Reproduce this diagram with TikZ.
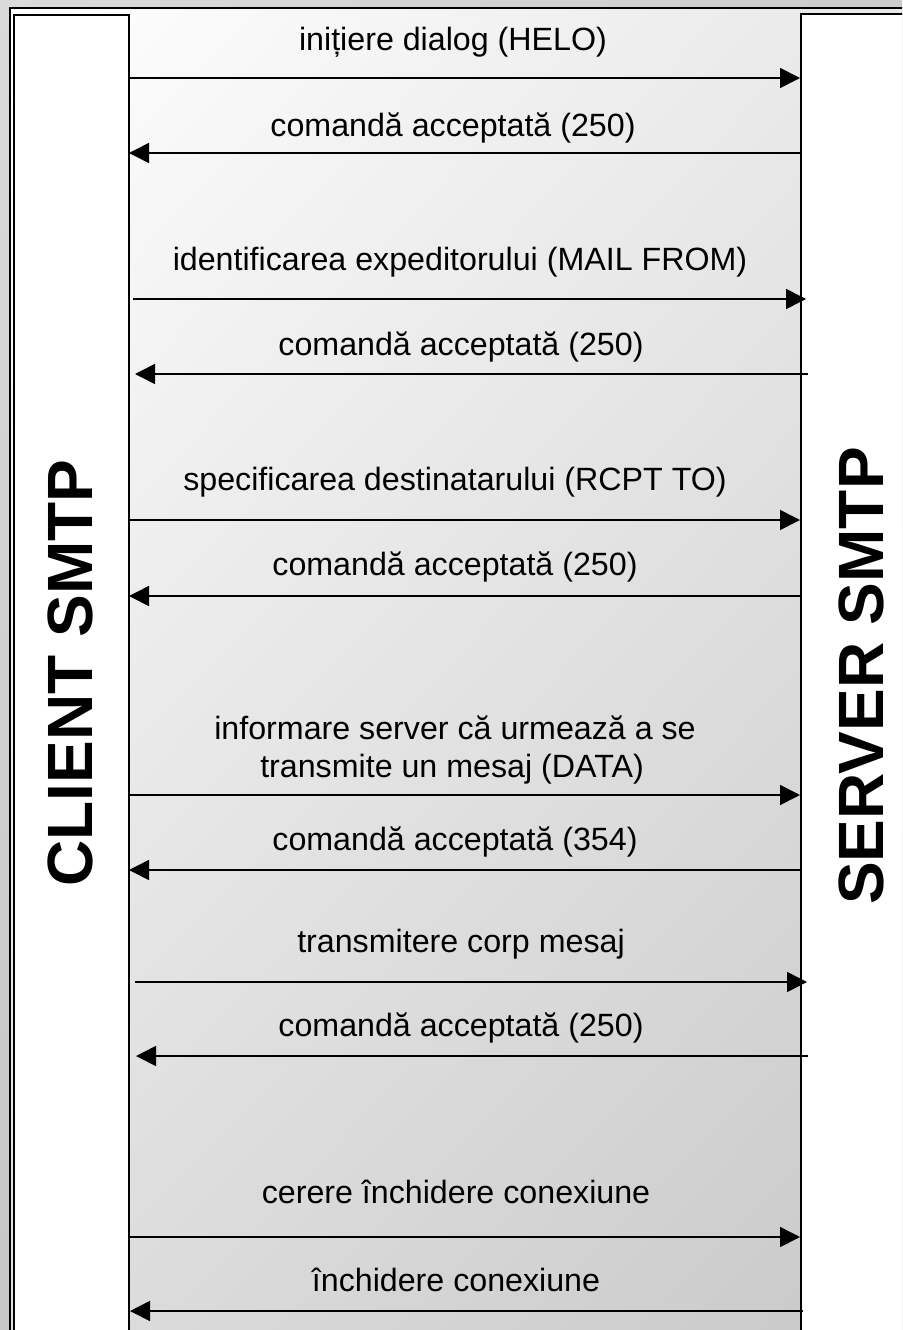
\documentclass[tikz,border=0pt]{standalone}
\usepackage{fontspec}
\setmainfont{Liberation Sans}
\usetikzlibrary{arrows.meta,shadings}
\definecolor{bgUL}{HTML}{DADADA}
\definecolor{bgUR}{HTML}{CCCCCC}
\definecolor{bgLL}{HTML}{C6C6C6}
\definecolor{bgLR}{HTML}{C0C0C0}
\definecolor{mUL}{HTML}{FFFFFF}
\definecolor{mUR}{HTML}{E8E8E8}
\definecolor{mLL}{HTML}{DEDEDE}
\definecolor{mLR}{HTML}{C8C8C8}
\begin{document}
\begin{tikzpicture}[x=1pt,y=-1pt,
  msg/.style={font=\fontsize{32.2}{38}\selectfont, anchor=base, align=center, inner sep=0pt},
  sidelabel/.style={font=\fontsize{64}{70}\selectfont\bfseries, rotate=90, inner sep=0pt},
  party/.style={draw=black, line width=2pt, fill=white, anchor=north west, inner sep=0pt},
  arr/.style={draw=black, line width=1.6pt, -{Triangle[length=20pt,width=20pt]}}]
\useasboundingbox (0,0) rectangle (902,1330);
\clip (0,0) rectangle (902,1330);
% background
\shade[upper left=bgUL, upper right=bgUR, lower left=bgLL, lower right=bgLR] (0,0) rectangle (902,1330);
% framed area
\shade[upper left=mUL, upper right=mUR, lower left=mLL, lower right=mLR] (10,8) rectangle (902,1330);
\draw[line width=2pt] (10.3,1360) -- (10.3,8) -- (910,8);
% parties
\node[party, minimum width=115pt, minimum height=1400pt] (client) at (13,13.7) {};
\node[party, minimum width=200pt, minimum height=1400pt] (server) at (800.3,13.5) {};
\node[sidelabel] (clientlbl) at (70,673) {CLIENT SMTP};
\node[sidelabel] (serverlbl) at (861,676) {SERVER SMTP};
% messages
\node[msg] (t1) at (453,51) {inițiere dialog (HELO)};
\coordinate (a1s) at (128,78); \coordinate (a1e) at (800,78);
\draw[arr] (a1s) -- (a1e);

\node[msg] (t2) at (453,136) {comandă acceptată (250)};
\coordinate (a2s) at (801,153); \coordinate (a2e) at (129,153);
\draw[arr] (a2s) -- (a2e);

\node[msg] (t3) at (460,270) {identificarea expeditorului (MAIL FROM)};
\coordinate (a3s) at (133,299); \coordinate (a3e) at (806,299);
\draw[arr] (a3s) -- (a3e);

\node[msg] (t4) at (461,355) {comandă acceptată (250)};
\coordinate (a4s) at (808,374); \coordinate (a4e) at (135,374);
\draw[arr] (a4s) -- (a4e);

\node[msg] (t5) at (455,490) {specificarea destinatarului (RCPT TO)};
\coordinate (a5s) at (128,520); \coordinate (a5e) at (800,520);
\draw[arr] (a5s) -- (a5e);

\node[msg] (t6) at (455,575) {comandă acceptată (250)};
\coordinate (a6s) at (802,596); \coordinate (a6e) at (129,596);
\draw[arr] (a6s) -- (a6e);

\node[msg] (t7a) at (455,739) {informare server că urmează a se};
\node[msg] (t7b) at (452,777) {transmite un mesaj (DATA)};
\coordinate (a7s) at (128,795); \coordinate (a7e) at (800,795);
\draw[arr] (a7s) -- (a7e);

\node[msg] (t8) at (455,850) {comandă acceptată (354)};
\coordinate (a8s) at (802,870); \coordinate (a8e) at (129,870);
\draw[arr] (a8s) -- (a8e);

\node[msg] (t9) at (461,952) {transmitere corp mesaj};
\coordinate (a9s) at (135,982); \coordinate (a9e) at (807,982);
\draw[arr] (a9s) -- (a9e);

\node[msg] (t10) at (461,1036) {comandă acceptată (250)};
\coordinate (a10s) at (808,1056); \coordinate (a10e) at (136,1056);
\draw[arr] (a10s) -- (a10e);

\node[msg] (t11) at (456,1203) {cerere închidere conexiune};
\coordinate (a11s) at (128,1237); \coordinate (a11e) at (800,1237);
\draw[arr] (a11s) -- (a11e);

\node[msg] (t12) at (456,1291) {închidere conexiune};
\coordinate (a12s) at (803,1311); \coordinate (a12e) at (130,1311);
\draw[arr] (a12s) -- (a12e);
\end{tikzpicture}
\end{document}
